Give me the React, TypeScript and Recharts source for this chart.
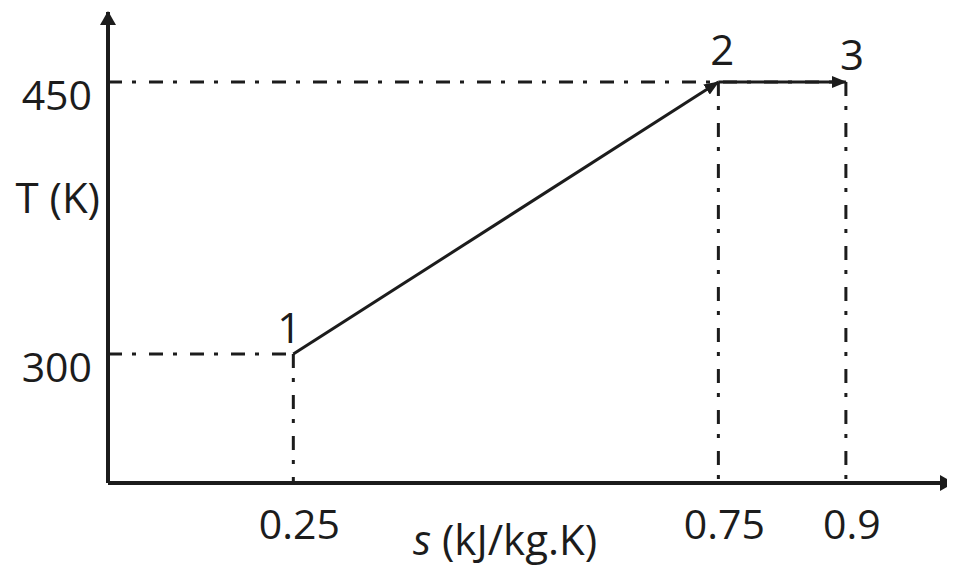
import { ComposedChart, XAxis, YAxis, ReferenceLine, ReferenceDot } from 'recharts';

// state points of the process (s in kJ/kg.K, T in K)
const stateNames = ['1', '2', '3'];
const stateS = [0.25, 0.75, 0.9];
const stateT = [300, 450, 450];

const sTicks = [0.25, 0.75, 0.9];
const tTicks = [300, 450];

// visible window of the axes (diagram is truncated, origin is not 0,0)
const S_MIN = 0.032;
const S_MAX = 1.026;
const T_MIN = 228.9;
const T_MAX = 488.6;

const FONT = '"Open Sans", sans-serif';
const INK = '#1c1c1c';
const DASH = '14 10 4 13';

const labelShift = [
  { dx: -4, dy: -11 },
  { dx: 4, dy: -17 },
  { dx: 6, dy: -12 },
];

const states = stateNames.map((name, i) => ({ name, s: stateS[i], T: stateT[i] }));

const STick = ({ x, y, payload }: any) => (
  <text x={x + 6} y={y + 48} textAnchor="middle" fontFamily={FONT} fontSize={41} fill={INK}>
    {payload.value}
  </text>
);

const TTick = ({ x, y, payload }: any) => (
  <text x={x - 8} y={y + 28} textAnchor="end" fontFamily={FONT} fontSize={41} fill={INK}>
    {payload.value}
  </text>
);

export default function App() {
  return (
    <ComposedChart
      width={947}
      height={558}
      data={states}
      margin={{ top: 4, right: 2, left: 0, bottom: 0 }}
    >
      <defs>
        <marker
          id="axisHead"
          viewBox="0 0 14 16"
          refX={13}
          refY={8}
          markerWidth={14}
          markerHeight={16}
          markerUnits="userSpaceOnUse"
          orient="auto-start-reverse"
        >
          <path d="M0,0 L14,8 L0,16 Z" fill={INK} />
        </marker>
        <marker
          id="procHead"
          viewBox="0 0 15 12"
          refX={14}
          refY={6}
          markerWidth={15}
          markerHeight={12}
          markerUnits="userSpaceOnUse"
          orient="auto"
        >
          <path d="M0,0 L15,6 L0,12 Z" fill={INK} />
        </marker>
      </defs>

      <XAxis
        type="number"
        dataKey="s"
        domain={[S_MIN, S_MAX]}
        ticks={sTicks}
        allowDataOverflow
        height={83}
        tickLine={false}
        axisLine={{ stroke: INK, strokeWidth: 4, markerEnd: 'url(#axisHead)' }}
        tick={<STick />}
        label={{
          content: ({ viewBox }: any) => (
            <text
              x={viewBox.x + 397}
              y={viewBox.y + 72}
              textAnchor="middle"
              fontFamily={FONT}
              fontSize={42}
              fill={INK}
            >
              <tspan fontStyle="italic">s</tspan> (kJ/kg.K)
            </text>
          ),
        }}
      />
      <YAxis
        type="number"
        domain={[T_MIN, T_MAX]}
        ticks={tTicks}
        allowDataOverflow
        width={100}
        tickLine={false}
        axisLine={{ stroke: INK, strokeWidth: 4, markerStart: 'url(#axisHead)' }}
        tick={<TTick />}
        label={{
          content: ({ viewBox }: any) => (
            <text
              x={viewBox.x + viewBox.width - 8}
              y={viewBox.y + 201}
              textAnchor="end"
              fontFamily={FONT}
              fontSize={42}
              fill={INK}
            >
              T (K)
            </text>
          ),
        }}
      />

      {/* guide lines */}
      <ReferenceLine
        segment={[{ x: S_MIN, y: stateT[0] }, { x: stateS[0], y: stateT[0] }]}
        stroke={INK}
        strokeWidth={3}
        strokeDasharray={DASH}
        ifOverflow="visible"
      />
      <ReferenceLine
        segment={[{ x: stateS[0], y: stateT[0] }, { x: stateS[0], y: T_MIN }]}
        stroke={INK}
        strokeWidth={3}
        strokeDasharray={DASH}
        ifOverflow="visible"
      />
      <ReferenceLine
        segment={[{ x: S_MIN, y: stateT[1] }, { x: stateS[2], y: stateT[1] }]}
        stroke={INK}
        strokeWidth={3}
        strokeDasharray={DASH}
        ifOverflow="visible"
      />
      <ReferenceLine
        segment={[{ x: stateS[1], y: stateT[1] }, { x: stateS[1], y: T_MIN }]}
        stroke={INK}
        strokeWidth={3}
        strokeDasharray={DASH}
        ifOverflow="visible"
      />
      <ReferenceLine
        segment={[{ x: stateS[2], y: stateT[2] }, { x: stateS[2], y: T_MIN }]}
        stroke={INK}
        strokeWidth={3}
        strokeDasharray={DASH}
        ifOverflow="visible"
      />

      {/* process path 1 -> 2 -> 3 */}
      {states.slice(1).map((p, i) => (
        <ReferenceLine
          key={`proc-${p.name}`}
          segment={[{ x: states[i].s, y: states[i].T }, { x: p.s, y: p.T }]}
          stroke={INK}
          strokeWidth={3}
          markerEnd="url(#procHead)"
          ifOverflow="visible"
        />
      ))}

      {states.map((p, i) => (
        <ReferenceDot
          key={`lbl-${p.name}`}
          x={p.s}
          y={p.T}
          r={1}
          fill="none"
          stroke="none"
          ifOverflow="visible"
          label={{
            content: ({ viewBox }: any) => (
              <text
                x={viewBox.x + viewBox.width / 2 + labelShift[i].dx}
                y={viewBox.y + viewBox.height / 2 + labelShift[i].dy}
                textAnchor="middle"
                fontFamily={FONT}
                fontSize={42}
                fill={INK}
              >
                {p.name}
              </text>
            ),
          }}
        />
      ))}
    </ComposedChart>
  );
}
